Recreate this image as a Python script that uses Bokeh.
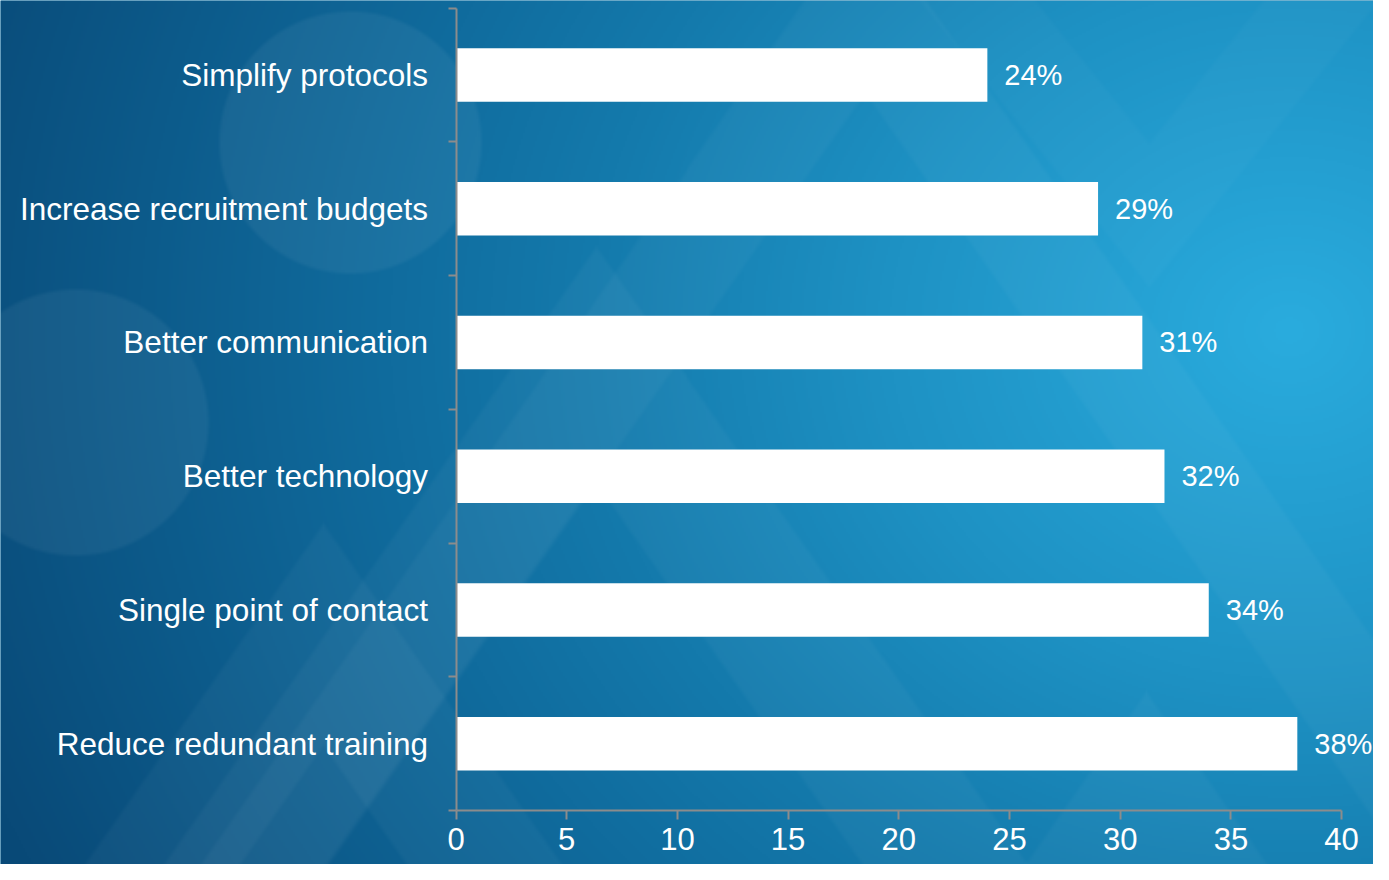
import numpy as np
from bokeh.plotting import figure
from bokeh.models import Range1d, FixedTicker, ColumnDataSource
from bokeh.core.properties import value
from bokeh.embed import file_html
from bokeh.resources import INLINE

# ---------------- data ----------------
categories = ["Reduce redundant training", "Single point of contact", "Better technology",
              "Better communication", "Increase recruitment budgets", "Simplify protocols"]
values = [38, 34, 32, 31, 29, 24]
value_labels = [f"{v}%" for v in values]
x_ticks = [0, 5, 10, 15, 20, 25, 30, 35, 40]

# ---------------- layout ----------------
W, H = 1373, 864
PPU_X = 22.14           # pixels per x unit
X0_PX = 455.5           # figure pixel of x = 0
Y_BOTTOM_PX = 810.0     # figure pixel (from top) of lower category boundary
Y_TOP_PX = 7.5
n = len(categories)
PPU_Y = (Y_BOTTOM_PX - Y_TOP_PX) / n

x_start = -X0_PX / PPU_X
x_end = x_start + W / PPU_X
y_top = n + 0.5 + Y_TOP_PX / PPU_Y
y_bottom = y_top - H / PPU_Y

ys = list(range(1, n + 1))

# ---------------- background (decorative gradient) ----------------
s = 2
h, w = H // s, (W + s - 1) // s
gy, gx = np.mgrid[0:h, 0:w].astype(float)
rx = gx * s + s / 2
ry = gy * s + s / 2
d = np.hypot(rx - 1290, (ry - 330) * 1.15)
sd = [0, 400, 700, 900, 1400, 2000]
sc = np.array([[42, 172, 222], [30, 146, 196], [20, 122, 172], [16, 108, 158], [9, 74, 120], [6, 60, 100]], float)
R = np.interp(d, sd, sc[:, 0])
G = np.interp(d, sd, sc[:, 1])
B = np.interp(d, sd, sc[:, 2])
alpha = np.zeros_like(R)
# soft circles
for cx, cy, rr in [(350, 142, 133), (75, 422, 135)]:
    dist = np.hypot(rx - cx, ry - cy)
    alpha += 0.05 * np.clip((rr - dist) / 4.0, 0, 1)

def chevron(ax, ay, width, k=0.7, up=False):
    dy = (ry - ay) if not up else (ay - ry)
    off = np.abs(rx - ax)
    edge = k * dy
    a = np.clip((edge - off) / 5.0, 0, 1) * np.clip((off - (edge - width)) / 5.0, 0, 1)
    return a * (dy > 0)

alpha += 0.032 * chevron(596, 243, 170)
alpha += 0.032 * chevron(323, 520, 160)
alpha += 0.03 * chevron(866, -90, 130)
alpha += 0.03 * chevron(1147, 688, 150)
alpha += 0.02 * chevron(1150, 290, 120, k=0.8, up=True)
alpha = np.clip(alpha, 0, 0.2)
R = R * (1 - alpha) + 255 * alpha
G = G * (1 - alpha) + 255 * alpha
B = B * (1 - alpha) + 255 * alpha
rgba = np.zeros((h, w, 4), dtype=np.uint8)
rgba[..., 0] = R.astype(np.uint8)
rgba[..., 1] = G.astype(np.uint8)
rgba[..., 2] = B.astype(np.uint8)
rgba[..., 3] = 255
img = rgba[::-1].copy().view(np.uint32).reshape(h, w)

# ---------------- figure ----------------
p = figure(width=W, height=H, x_range=Range1d(x_start, x_end), y_range=Range1d(y_bottom, y_top),
           output_backend="svg", toolbar_location=None, min_border=0, outline_line_color=None)
p.background_fill_color = "#1176a8"
p.border_fill_color = "#1176a8"
p.grid.visible = False

p.image_rgba(image=[img], x=x_start, y=y_bottom, dw=x_end - x_start, dh=y_top - y_bottom)

src = ColumnDataSource(dict(y=ys, v=values, lab=value_labels))
p.hbar(y="y", right="v", left=0, height=0.4, source=src, fill_color="white", line_color=None)
p.text(x="v", y="y", text="lab", source=src, x_offset=17, text_align="left", text_baseline="middle",
       text_color="white", text_font=value("Liberation Sans"), text_font_size="29px")

axis_gray = "#8c8c8c"
ya = p.yaxis[0]
ya.fixed_location = 0
ya.ticker = FixedTicker(ticks=ys, minor_ticks=[y - 0.5 for y in ys] + [n + 0.5])
ya.major_label_overrides = {y: c for y, c in zip(ys, categories)}
ya.bounds = (0.5, n + 0.5)
ya.axis_line_color = axis_gray
ya.axis_line_width = 2
ya.major_tick_line_color = None
ya.major_tick_out = 0
ya.major_tick_in = 0
ya.minor_tick_line_color = axis_gray
ya.minor_tick_line_width = 2
ya.minor_tick_out = 8
ya.minor_tick_in = 0
ya.major_label_standoff = 20
ya.major_label_text_color = "white"
ya.major_label_text_font = "Liberation Sans"
ya.major_label_text_font_size = "31.5px"

xa = p.xaxis[0]
xa.fixed_location = 0.5
xa.ticker = FixedTicker(ticks=x_ticks)
xa.bounds = (0, 40)
xa.axis_line_color = axis_gray
xa.axis_line_width = 2
xa.major_tick_line_color = axis_gray
xa.major_tick_line_width = 2
xa.major_tick_out = 9
xa.major_tick_in = 0
xa.minor_tick_line_color = None
xa.major_label_standoff = 8
xa.major_label_text_color = "white"
xa.major_label_text_font = "Liberation Sans"
xa.major_label_text_font_size = "31px"

open("out.html", "w").write(file_html(p, INLINE))
